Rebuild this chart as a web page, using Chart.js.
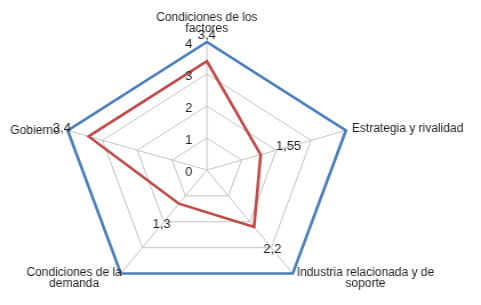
<!DOCTYPE html>
<html>
<head>
<meta charset="utf-8">
<script src="https://cdn.jsdelivr.net/npm/chart.js@4/dist/chart.umd.min.js"></script>
<style>
  body { margin: 0; background: #fff; }
  #radar { display: block; width: 481px; height: 305px; }
</style>
</head>
<body>
<canvas id="radar" width="421" height="305"></canvas>
<script>
// datos
var categorias = [
    ['Condiciones de los', 'factores'],
    ['Estrategia y rivalidad'],
    ['Industria relacionada y de', 'soporte'],
    ['Condiciones de la', 'demanda'],
    ['Gobierno']
];
var valoresMax = [4, 4, 4, 4, 4];
var valoresActual = [3.4, 1.55, 2.2, 1.3, 3.4];
var ticksEje = [0, 1, 2, 3, 4];

// el plot area de excel es mas ancho que alto -> canvas estirado en css
var SX = 481 / 421;
var FONT = '"Liberation Sans", Arial, sans-serif';
var TXT_COLOR = '#1e1e1e';

// texto sin estirar
function txt(ctx, s, x, y, align) {
    ctx.save();
    ctx.translate(x, y);
    ctx.scale(1 / SX, 1);
    ctx.textAlign = align || 'center';
    ctx.textBaseline = 'middle';
    ctx.fillText(s, 0, 0);
    ctx.restore();
}

var textos = {
    id: 'textos',
    afterDraw: function(chart, args, opts) {
        var ctx = chart.ctx;
        var r = chart.scales.r;
        ctx.fillStyle = TXT_COLOR;

        // etiquetas del eje
        ctx.font = '13px ' + FONT;
        ticksEje.forEach(function(v) {
            var y = r.yCenter - r.getDistanceFromCenterForValue(v) + 2;
            txt(ctx, String(v), r.xCenter - 18 / SX, y, 'center');
        });

        // categorias
        ctx.font = '12px ' + FONT;
        categorias.forEach(function(lines, i) {
            var p = r.getPointPosition(i, r.drawingArea);
            var w1 = ctx.measureText(lines[0]).width;
            if (i === 0) {
                txt(ctx, lines[0], p.x, p.y - 24.5);
                txt(ctx, lines[1], p.x, p.y - 13);
            } else if (i === 1) {
                txt(ctx, lines[0], p.x + 6 / SX, p.y - 2, 'left');
            } else if (i === 2) {
                var cx = p.x + (4 + w1 / 2) / SX;
                txt(ctx, lines[0], cx, p.y - 1);
                txt(ctx, lines[1], cx, p.y + 10);
            } else if (i === 3) {
                var cx2 = p.x + (1 - w1 / 2) / SX;
                txt(ctx, lines[0], cx2, p.y - 1);
                txt(ctx, lines[1], cx2, p.y + 10);
            } else {
                txt(ctx, lines[0], p.x - 8 / SX, p.y, 'right');
            }
        });

        // etiquetas de datos (serie roja)
        ctx.font = '13px ' + FONT;
        valoresActual.forEach(function(v, i) {
            var p = r.getPointPositionForValue(i, opts.labelAt[i]);
            txt(ctx, String(v).replace('.', ','), p.x, p.y, 'center');
        });
    }
};

var chart = new Chart(document.getElementById('radar'), {
    type: 'radar',
    data: {
        labels: categorias.map(function(l) { return l.join(' '); }),
        datasets: [{
            label: 'Max',
            data: valoresMax,
            borderColor: '#4a7ebb',
            borderWidth: 2.6,
            fill: false,
            pointRadius: 0
        }, {
            label: 'Actual',
            data: valoresActual,
            borderColor: '#be4b48',
            borderWidth: 2.6,
            fill: false,
            pointRadius: 0
        }]
    },
    options: {
        responsive: false,
        devicePixelRatio: 1,
        animation: false,
        layout: { padding: { left: 53, right: 112, top: 42, bottom: 7 } },
        plugins: {
            legend: { display: false },
            tooltip: { enabled: false },
            textos: { labelAt: [4.19, 2.35, 3.05, 2.1, 4.17] }
        },
        scales: {
            r: {
                min: 0,
                max: 4,
                ticks: { stepSize: 1, display: false },
                pointLabels: { display: false },
                grid: { color: '#c4c4c4', lineWidth: 1 },
                angleLines: { color: '#c4c4c4', lineWidth: 1 }
            }
        }
    },
    plugins: [textos]
});
chart.canvas.style.width = '481px';
chart.canvas.style.height = '305px';
</script>
</body>
</html>
